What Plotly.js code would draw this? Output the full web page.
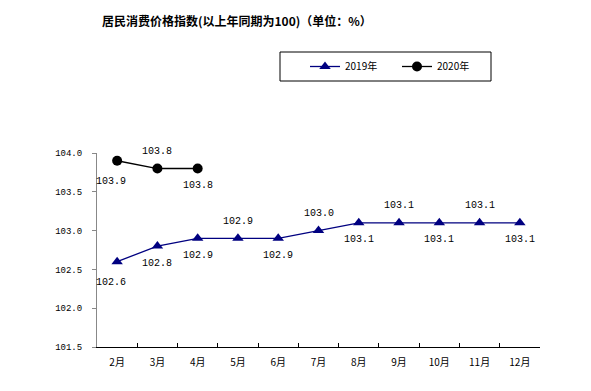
<!DOCTYPE html>
<html>
<head>
<meta charset="utf-8">
<script src="https://cdn.plot.ly/plotly-3.0.1.min.js"></script>
<style>html,body{margin:0;padding:0;background:#fff;}#chart{width:591px;height:391px;}</style>
</head>
<body>
<div id="chart"></div>
<script>
const months = ["2月","3月","4月","5月","6月","7月","8月","9月","10月","11月","12月"];
const cpi2019 = [102.6,102.8,102.9,102.9,102.9,103.0,103.1,103.1,103.1,103.1,103.1];
const months2020 = ["2月","3月","4月"];
const cpi2020 = [103.9,103.8,103.8];
const seriesNames = ["2019年","2020年"];
const yTicks = [101.5,102.0,102.5,103.0,103.5,104.0];

// label placement (style): -1 below, +1 above
const place2019 = [-1,-1,-1,1,-1,1,-1,1,-1,1,-1];
const place2020 = [-1,1,-1];

const traces = [
  {x: months, y: cpi2019, name: seriesNames[0], type: "scatter", mode: "lines+markers",
   line: {color: "#000080", width: 1.3},
   marker: {symbol: "triangle-up", size: 10, color: "#000080"}},
  {x: months2020, y: cpi2020, name: seriesNames[1], type: "scatter", mode: "lines+markers",
   line: {color: "#000000", width: 1.3},
   marker: {symbol: "circle", size: 10, color: "#000000"}}
];

const annotations = [];
function addLabels(xs, ys, place) {
  xs.forEach((m, i) => {
    annotations.push({
      x: m, y: ys[i], xref: "x", yref: "y", showarrow: false,
      text: ys[i].toFixed(1),
      yshift: place[i] > 0 ? 17 : (i === 0 ? -21 : -17),
      xshift: i === 0 ? -6 : 0,
      font: {family: "Liberation Mono, DejaVu Sans Mono, monospace", size: 10, color: "#000"}
    });
  });
}
addLabels(months, cpi2019, place2019);
addLabels(months2020, cpi2020, place2020);

const W = 591, H = 391;
const layout = {
  width: W, height: H,
  margin: {l: 97, r: 51, t: 153, b: 44},
  paper_bgcolor: "#fff", plot_bgcolor: "#fff",
  showlegend: true,
  title: {
    text: "<b>居民消费价格指数(以上年同期为100)（单位：%）</b>",
    x: 102/W, xanchor: "left", y: 1 - 22/H, yanchor: "middle",
    font: {family: "Noto Sans CJK SC", size: 12, color: "#000"}
  },
  legend: {
    orientation: "h", x: (305-97)/443, xanchor: "left", y: 1 + (153-52)/194, yanchor: "top",
    borderwidth: 0, bgcolor: "rgba(0,0,0,0)",
    font: {family: "Noto Sans CJK SC", size: 10, color: "#000"},
    entrywidth: 47, itemwidth: 30
  },
  shapes: [{
    type: "rect", xref: "paper", yref: "paper",
    x0: (280-97)/443, x1: (491-97)/443,
    y0: 1 + (153-81)/194, y1: 1 + (153-52)/194,
    line: {color: "#000", width: 1}, fillcolor: "rgba(0,0,0,0)"
  }],
  xaxis: {
    type: "category", range: [-0.5, 10.5],
    showline: true, linecolor: "#000", linewidth: 1,
    ticks: "inside", tickson: "boundaries", ticklen: 4, tickcolor: "#000",
    showgrid: false, zeroline: false, ticklabelstandoff: 6,
    tickfont: {family: "Noto Sans CJK SC", size: 10, color: "#000"}
  },
  yaxis: {
    range: [101.5, 104.0], tickvals: yTicks, ticktext: yTicks.map(v => v.toFixed(1)),
    showline: true, linecolor: "#888", linewidth: 1,
    ticks: "outside", ticklen: 4, tickcolor: "#888",
    showgrid: false, zeroline: false, ticklabelstandoff: 8,
    tickfont: {family: "Liberation Mono, DejaVu Sans Mono, monospace", size: 9, color: "#000"}
  },
  annotations: annotations
};

Plotly.newPlot("chart", traces, layout, {displayModeBar: false, staticPlot: true});
</script>
</body>
</html>
